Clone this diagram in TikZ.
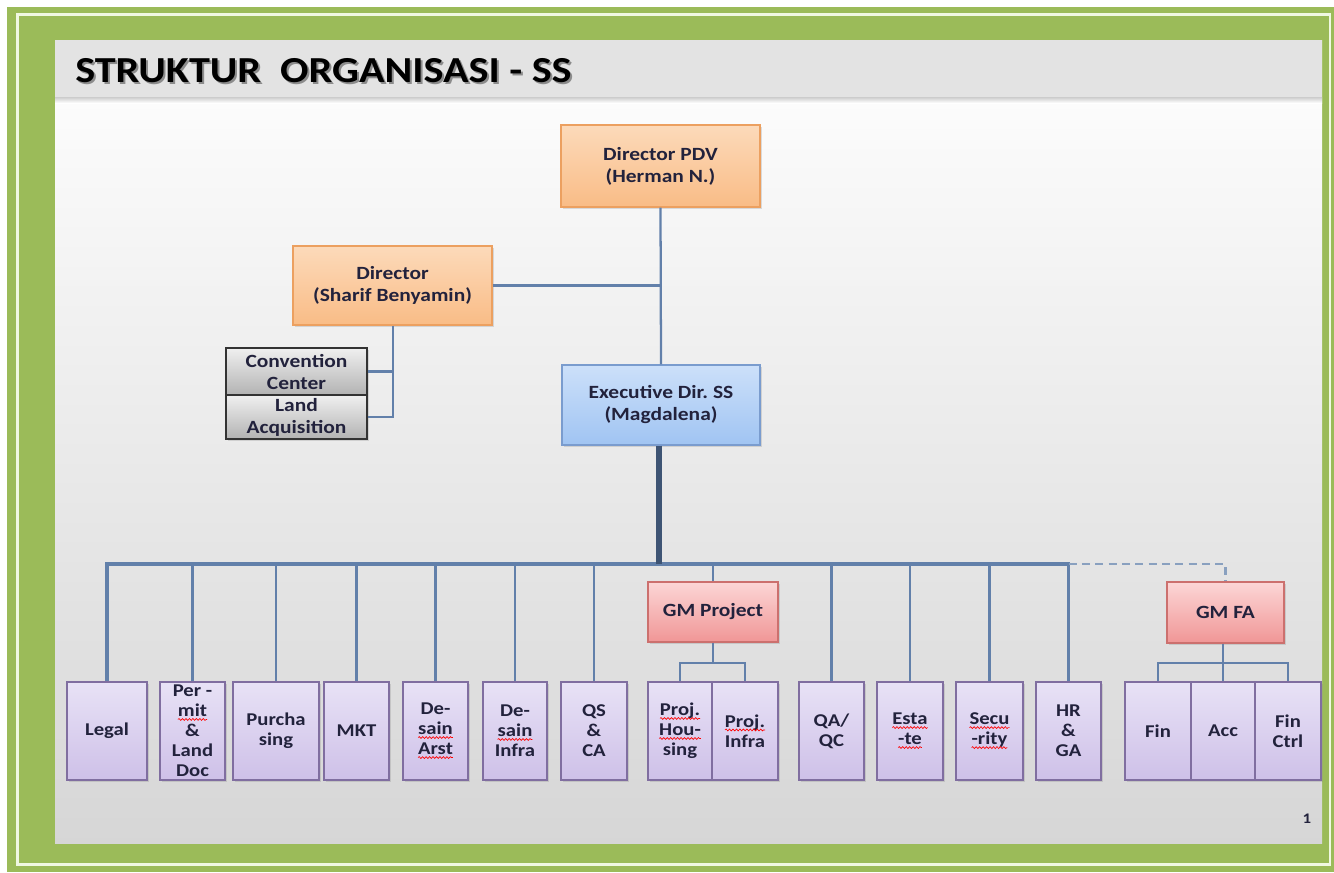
\documentclass[tikz,border=0pt]{standalone}
\usepackage{fontspec}
\setmainfont{Carlito}[FakeStretch=1.15]
\usepackage{tikz}
\usetikzlibrary{shadows, decorations.pathmorphing}
\frenchspacing
\definecolor{framegreen}{RGB}{155,187,89}
\definecolor{framelight}{RGB}{240,248,226}
\definecolor{titlegray}{RGB}{227,227,227}
\definecolor{linkblue}{RGB}{98,128,170}
\definecolor{stemblue}{RGB}{62,84,116}
\definecolor{txtdark}{RGB}{34,34,60}
\definecolor{orangetop}{RGB}{252,218,186}
\definecolor{orangebot}{RGB}{249,188,134}
\definecolor{orangeline}{RGB}{236,160,96}
\definecolor{bluetop}{RGB}{204,224,250}
\definecolor{bluebot}{RGB}{160,196,242}
\definecolor{blueline}{RGB}{122,156,206}
\definecolor{pinktop}{RGB}{252,214,214}
\definecolor{pinkbot}{RGB}{240,150,150}
\definecolor{pinkline}{RGB}{204,112,110}
\definecolor{purpletop}{RGB}{232,226,246}
\definecolor{purplebot}{RGB}{206,192,232}
\definecolor{purpleline}{RGB}{128,110,160}

% red spell-check wave under a word
\newcommand\spellwave[1]{\tikz[baseline=(sw.base), x=1pt, y=1pt]{%
  \node[inner sep=0pt, outer sep=0pt, minimum width=0pt, minimum height=0pt, draw=none, fill=none, text=txtdark] (sw) {#1};
  \draw[red, line width=0.5pt, decorate, decoration={snake, segment length=2.6pt, amplitude=0.7pt}]
    ([yshift=-2pt]sw.base west) -- ([yshift=-2pt]sw.base east);}}

\tikzset{
  sz/.style 2 args={minimum width=#1*0.75pt, minimum height=#2*0.75pt},
  box/.style={draw, line width=1.1pt, inner sep=0pt, align=center, text=txtdark,
    font=\bfseries\fontsize{14}{16.5}\selectfont,
    drop shadow={opacity=0.25, shadow xshift=1.4pt, shadow yshift=-1.4pt}},
  orangebox/.style={box, draw=orangeline, top color=orangetop, bottom color=orangebot},
  bluebox/.style={box, draw=blueline, top color=bluetop, bottom color=bluebot},
  pinkbox/.style={box, draw=pinkline, top color=pinktop, bottom color=pinkbot},
  graybox/.style={box, draw=black!80, line width=1.5pt, top color=black!6, bottom color=black!30, drop shadow={opacity=0}},
  unitbox/.style={box, draw=purpleline, top color=purpletop, bottom color=purplebot,
    font=\bfseries\fontsize{13.5}{15}\selectfont},
  conn/.style={draw=linkblue, line width=1.7pt},
  busline/.style={draw=linkblue, line width=2.4pt},
  stemline/.style={draw=stemblue, line width=4.6pt},
  dotline/.style={draw=linkblue!75, line width=1.7pt, dash pattern=on 6pt off 4pt},
}

\begin{document}
\begin{tikzpicture}[x=0.75pt, y=-0.75pt]
    % Frame and slide background
    \useasboundingbox (0,0) rectangle (1334,872);
    \fill[white] (0,0) rectangle (1334,872);
    \fill[framegreen] (7,7) rectangle (1334,872);
    \draw[framelight, line width=2pt] (17.5,14.5) rectangle (1330,864.5);
    \shade[top color=white, middle color=black!3, bottom color=black!16] (55,40) rectangle (1322,843);
    \fill[titlegray] (55,40) rectangle (1322,97);
    \shade[top color=black!20, bottom color=white] (55,97) rectangle (1322,103);

    % Title and page number
    \node[anchor=base west, text=black!45, inner sep=0pt, font=\bfseries\fontsize{27.5}{30}\selectfont] (titleshadow) at (77,84) {STRUKTUR\ \ ORGANISASI - SS};
    \node[anchor=base west, text=black, inner sep=0pt, font=\bfseries\fontsize{27.5}{30}\selectfont] (title) at (75,82) {STRUKTUR\ \ ORGANISASI - SS};
    \node[anchor=base, text=txtdark, inner sep=0pt, font=\bfseries\fontsize{11}{12}\selectfont] (page) at (1307,823) {1};

    % Directors
    \node[orangebox, sz={199}{82}] (pdv) at (660.5,166) {Director PDV\\(Herman N.)};
    \node[orangebox, sz={199}{79}] (dir) at (392.5,285.5) {Director\\(Sharif Benyamin)};
    \node[bluebox, sz={198}{80}] (exe) at (661,405) {Executive Dir. SS\\(Magdalena)};

    % Staff of the director
    \node[graybox, sz={141}{47}] (conv) at (296.5,371.5) {Convention\\Center};
    \node[graybox, sz={141}{44}] (land) at (296.5,417) {Land\\Acquisition};

    % General managers
    \node[pinkbox, sz={130}{60}] (gmp) at (713,612) {GM Project};
    \node[pinkbox, sz={117}{61}] (gmfa) at (1225.5,612.5) {GM FA};

    % Units
    \node[unitbox, sz={80}{98}] (legal) at (107,731) {Legal};
    \node[unitbox, sz={65}{98}] (permit) at (192.5,731) {Per -\\\spellwave{mit}\\\&\\Land\\Doc};
    \node[unitbox, sz={86}{98}] (purch) at (276,731) {Purcha\\sing};
    \node[unitbox, sz={65}{98}] (mkt) at (356.5,731) {MKT};
    \node[unitbox, sz={65}{98}] (darst) at (435.5,731) {De-\\\spellwave{sain}\\\spellwave{Arst}};
    \node[unitbox, sz={64}{98}] (dinfra) at (515,731) {De-\\\spellwave{sain}\\Infra};
    \node[unitbox, sz={66}{98}] (qsca) at (594,731) {QS\\\&\\CA};
    \node[unitbox, sz={64}{98}] (phous) at (680,731) {\spellwave{Proj.}\\\spellwave{Hou-}\\sing};
    \node[unitbox, sz={66}{98}] (pinfra) at (745,731) {\spellwave{Proj.}\\Infra};
    \node[unitbox, sz={65}{98}] (qaqc) at (831.5,731) {QA/\\QC};
    \node[unitbox, sz={66}{98}] (estate) at (910,731) {\spellwave{Esta}\\\spellwave{-te}};
    \node[unitbox, sz={67}{98}] (secu) at (989.5,731) {\spellwave{Secu}\\\spellwave{-rity}};
    \node[unitbox, sz={65}{98}] (hrga) at (1068.5,731) {HR\\\&\\GA};
    \node[unitbox, sz={66}{98}] (fin) at (1158,731) {Fin};
    \node[unitbox, sz={64}{98}] (acc) at (1223,731) {Acc};
    \node[unitbox, sz={66}{98}] (finctrl) at (1288,731) {Fin\\Ctrl};

    % Bus levels
    \coordinate (bus) at (659,564);
    \coordinate (gmbus) at (0,663);
    \coordinate (dirbus) at (393,0);

    % Upper connectors
    \draw[conn] (pdv.south) -- (exe.north);
    \draw[conn] (dir.east) -- (dir.east -| pdv.south);
    \draw[conn] (dir.south -| dirbus) -- (land.east -| dirbus) -- (land.east);
    \draw[conn] (conv.east) -- (conv.east -| dirbus);

    % Main bus and drops
    \draw[busline] (legal.north) -- (legal.north |- bus) -- (hrga.north |- bus) -- (hrga.north);
    \draw[stemline] (exe.south -| bus) -- (bus);
    \foreach \unit in {permit,purch,mkt,darst,dinfra,qsca,qaqc,estate,secu}
        \draw[conn] (\unit.north) -- (\unit.north |- bus);
    \draw[conn] (gmp.north) -- (gmp.north |- bus);
    \draw[dotline] (hrga.north |- bus) -- (gmfa.north |- bus) -- (gmfa.north);

    % Sub-buses under the general managers
    \draw[conn] (gmp.south) -- (gmp.south |- gmbus);
    \draw[conn] (phous.north) -- (phous.north |- gmbus) -- (pinfra.north |- gmbus) -- (pinfra.north);
    \draw[conn] (acc.north |- gmfa.south) -- (acc.north);
    \draw[conn] (fin.north) -- (fin.north |- gmbus) -- (finctrl.north |- gmbus) -- (finctrl.north);
\end{tikzpicture}
\end{document}
